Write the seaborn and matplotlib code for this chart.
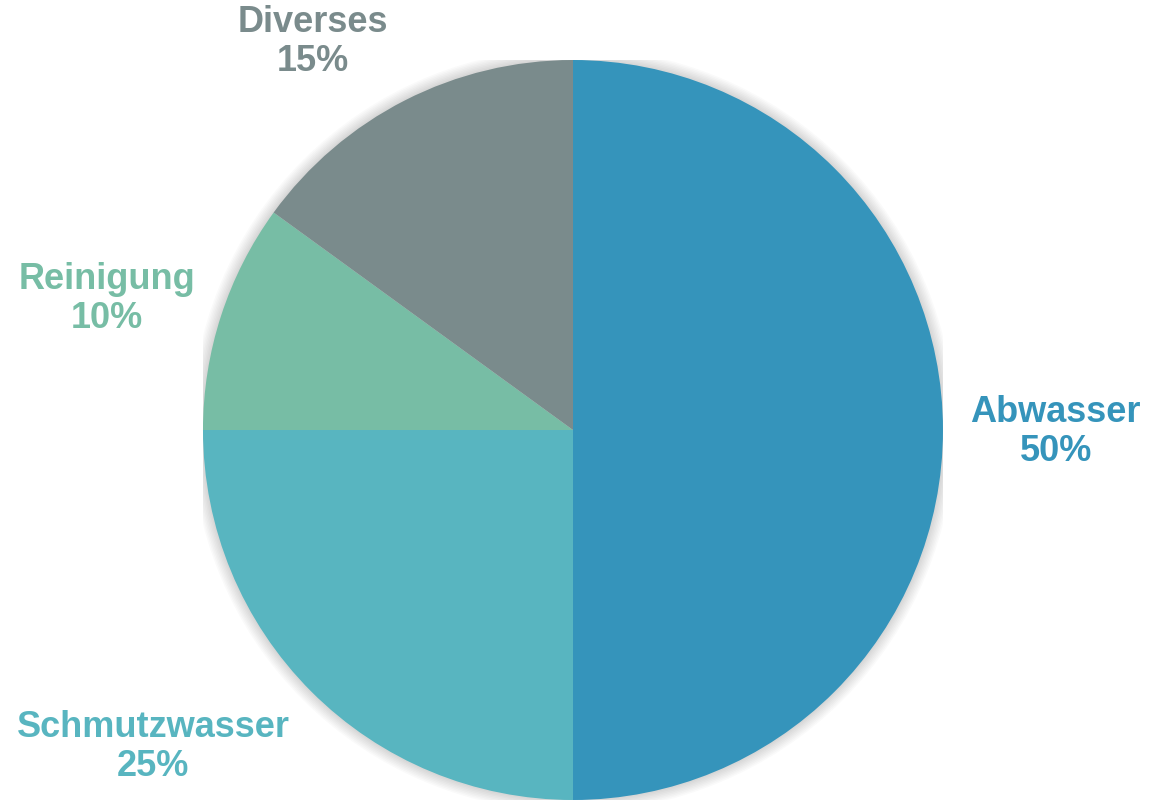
import numpy as np
import seaborn as sns
import matplotlib.pyplot as plt
from matplotlib.patches import Circle

sns.set_style("white")
plt.rcParams['font.family'] = ['Liberation Sans', 'DejaVu Sans']

# Data
categories = ["Abwasser", "Schmutzwasser", "Reinigung", "Diverses"]
shares = [50, 25, 10, 15]
colors = ["#3594BB", "#58B5C0", "#77BDA5", "#7A8B8C"]

# Label placement (in pie-radius units, relative to centre)
label_xy = [(1.305, -0.005), (-1.135, -0.857), (-1.259, 0.354), (-0.703, 1.049)]

fig = plt.figure(figsize=(11.5, 8), dpi=100)
ax = fig.add_axes([0.1765, 0.0, 0.6435, 0.925])

# soft glow/shadow around the pie
for k in range(8, 0, -1):
    ax.add_patch(Circle((0, 0), 1 + k * 0.004, color='black', alpha=0.018,
                        linewidth=0, zorder=0))

wedges, _ = ax.pie(shares, colors=colors, startangle=90, counterclock=False,
                   radius=1, wedgeprops=dict(linewidth=0, zorder=1))

for name, val, col, (x, y) in zip(categories, shares, colors, label_xy):
    ax.text(x, y, f"{name}\n{val}%", ha='center', va='center', color=col,
            fontsize=26, fontweight='bold', linespacing=1.15)

ax.set_xlim(-1, 1)
ax.set_ylim(-1, 1)
ax.set_aspect('equal')
ax.axis('off')

fig.savefig("out.png", dpi=100)
